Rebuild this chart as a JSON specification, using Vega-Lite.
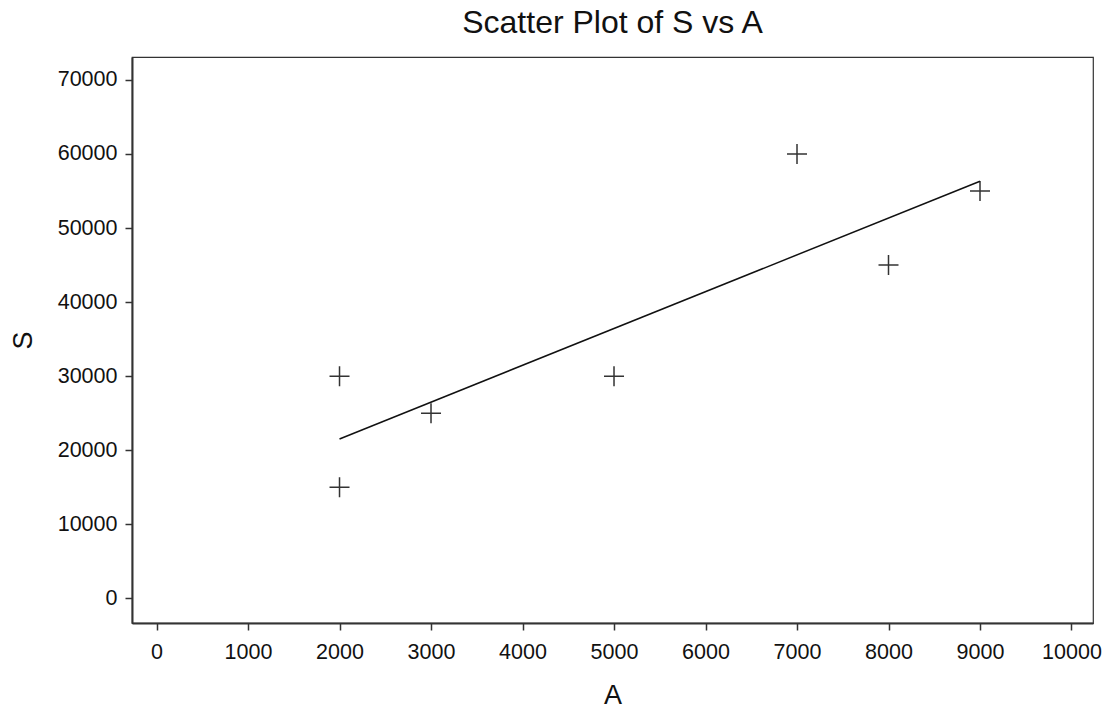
{
  "$schema": "https://vega.github.io/schema/vega-lite/v6.json",
  "width": 961,
  "height": 566,
  "autosize": "none",
  "padding": {"left": 132, "top": 57, "right": 13, "bottom": 86},
  "background": "white",
  "config": {
    "font": "Liberation Sans",
    "view": {"stroke": "#333", "strokeWidth": 1.2},
    "axis": {
      "grid": false,
      "domainColor": "#333",
      "domainWidth": 2,
      "tickColor": "#333",
      "tickWidth": 1.5,
      "tickSize": 7,
      "labelFont": "Liberation Sans",
      "labelFontSize": 21.5,
      "labelColor": "#111",
      "titleFont": "Liberation Sans",
      "titleFontSize": 27,
      "titleFontWeight": "normal",
      "titleColor": "#111"
    }
  },
  "title": {
    "text": "Scatter Plot of S vs A",
    "font": "Liberation Sans",
    "fontSize": 32,
    "fontWeight": "normal",
    "color": "#111",
    "anchor": "middle",
    "baseline": "bottom",
    "offset": 16,
    "dy": 31
  },
  "data": {
    "values": [
      {"A": 2000, "S": 30000},
      {"A": 2000, "S": 15000},
      {"A": 3000, "S": 25000},
      {"A": 5000, "S": 30000},
      {"A": 7000, "S": 60000},
      {"A": 8000, "S": 45000},
      {"A": 9000, "S": 55000}
    ]
  },
  "layer": [
    {
      "mark": {"type": "point", "shape": "M-1,0H1M0,-1V1", "filled": false, "size": 400, "strokeWidth": 1.5, "color": "#333", "opacity": 1},
      "encoding": {
        "x": {
          "field": "A", "type": "quantitative",
          "scale": {"domain": [-268, 10235], "nice": false, "zero": false},
          "axis": {"values": [0,1000,2000,3000,4000,5000,6000,7000,8000,9000,10000], "format": "d", "labelPadding": 11, "titlePadding": 20, "title": "A"}
        },
        "y": {
          "field": "S", "type": "quantitative",
          "scale": {"domain": [-3330, 73090], "nice": false, "zero": false},
          "axis": {"values": [0,10000,20000,30000,40000,50000,60000,70000], "format": "d", "labelPadding": 8, "titlePadding": 20, "title": "S"}
        }
      }
    },
    {
      "transform": [{"regression": "S", "on": "A", "method": "linear", "extent": [2000, 9000]}],
      "mark": {"type": "line", "color": "#111", "strokeWidth": 1.5},
      "encoding": {
        "x": {"field": "A", "type": "quantitative"},
        "y": {"field": "S", "type": "quantitative"}
      }
    }
  ]
}
